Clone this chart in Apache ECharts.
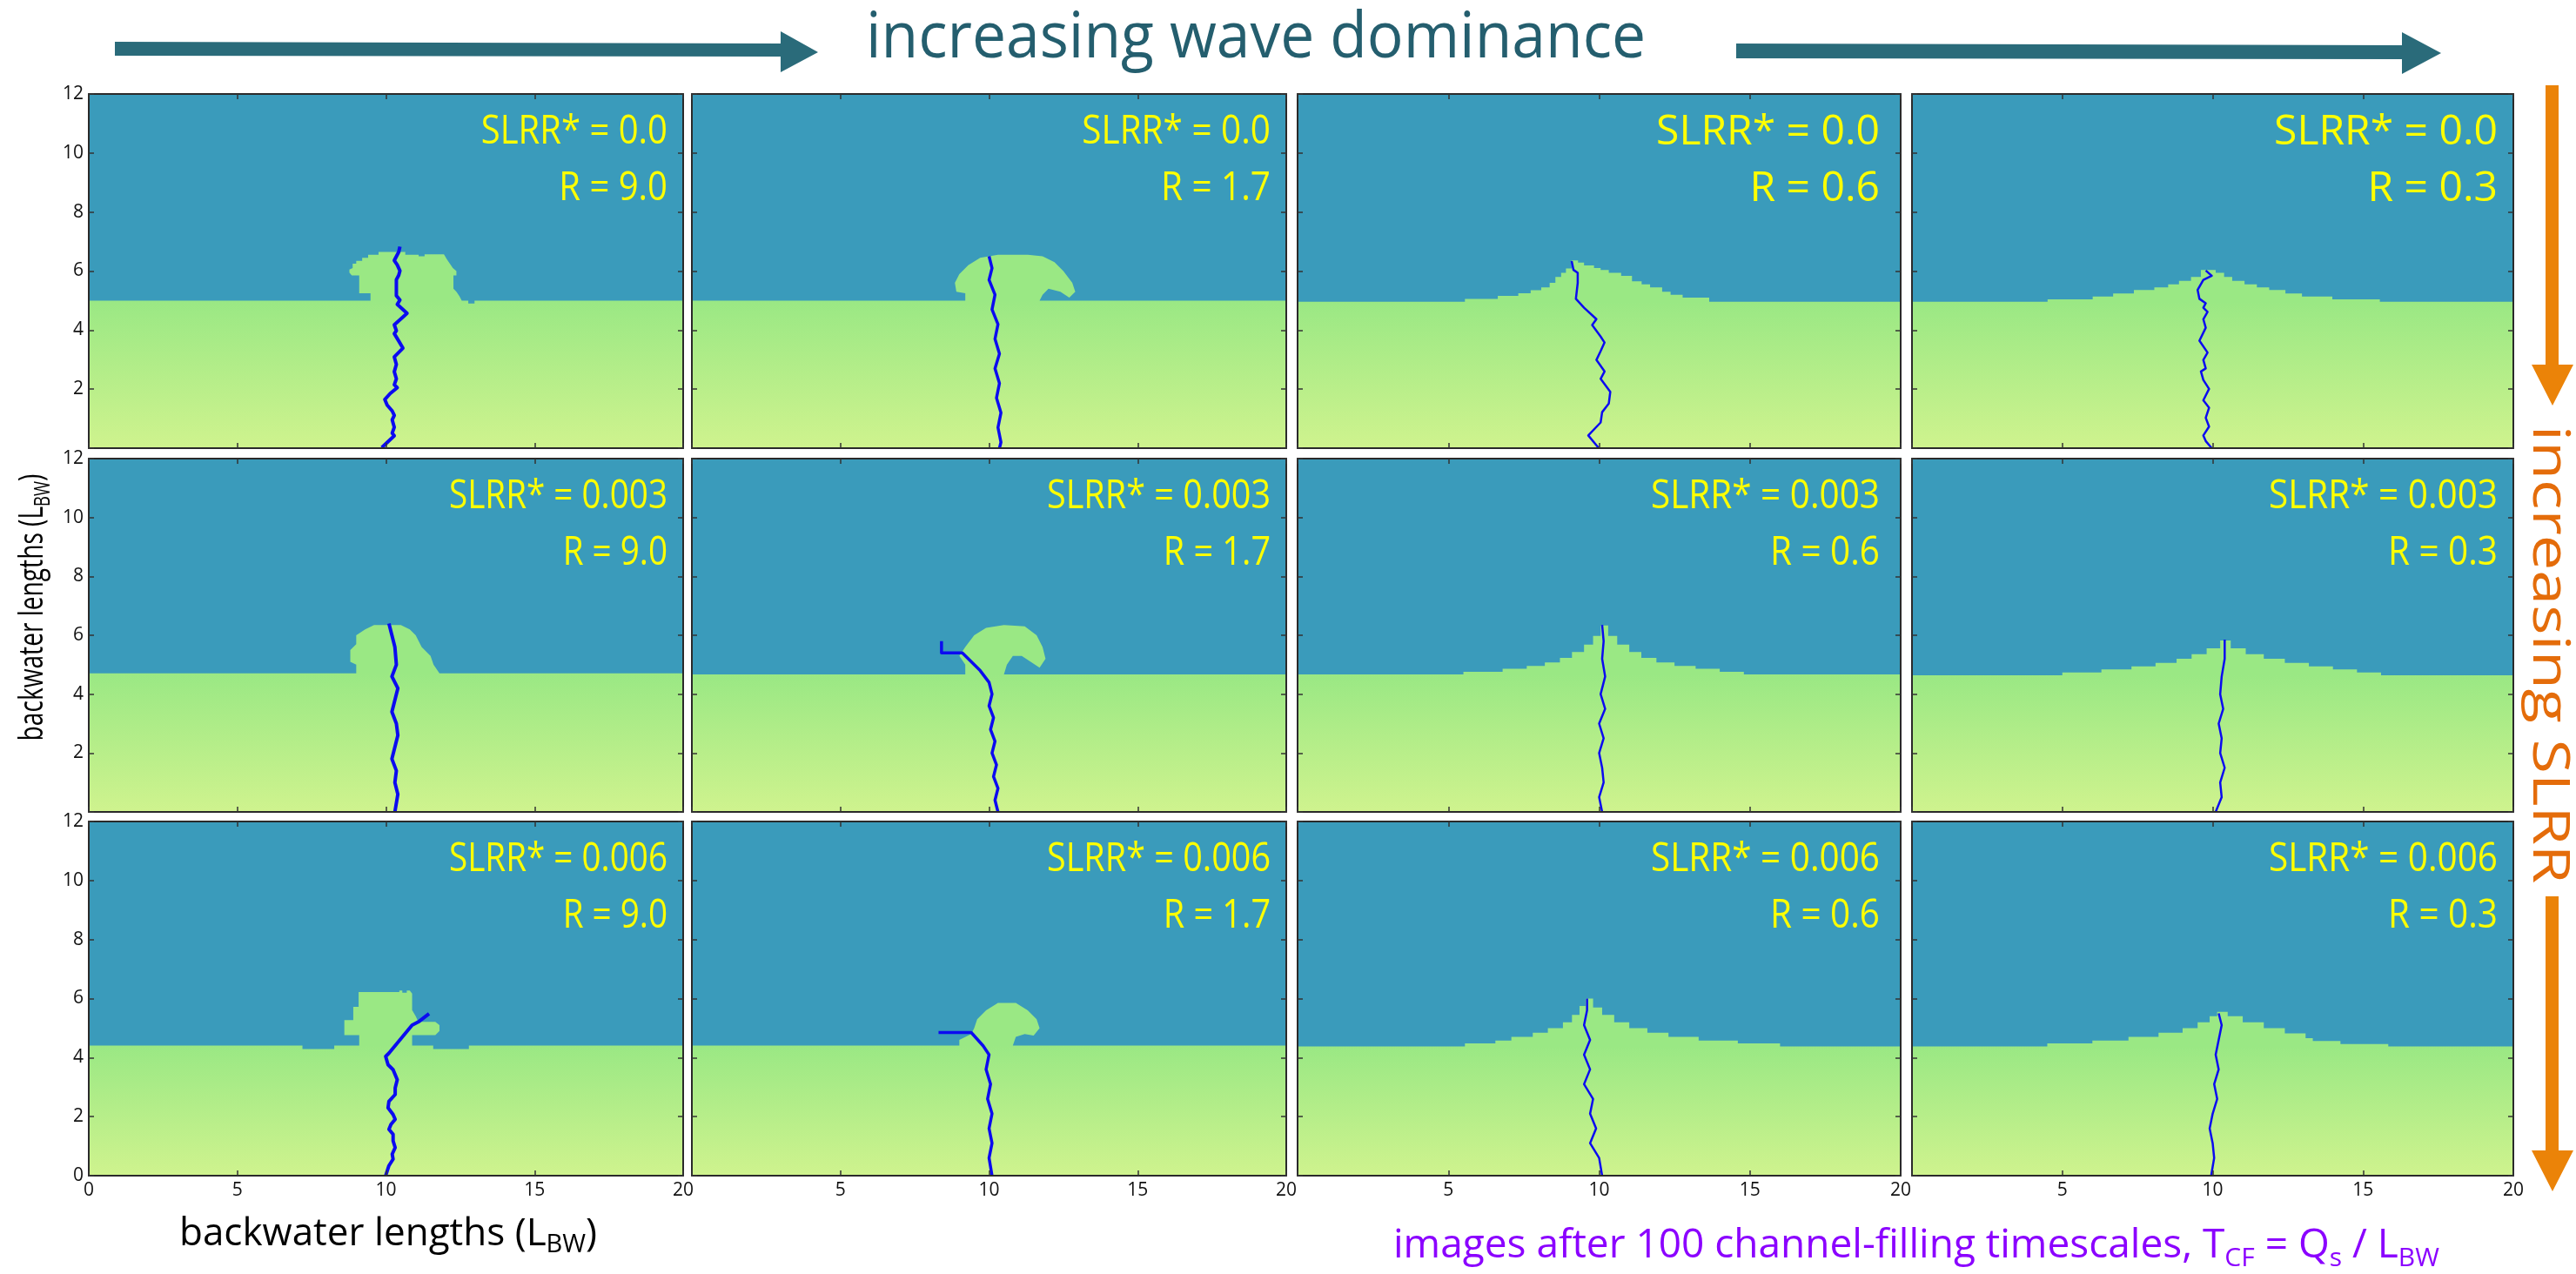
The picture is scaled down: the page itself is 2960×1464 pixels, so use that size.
<!DOCTYPE html>
<html>
<head>
<meta charset="utf-8">
<script src="https://cdn.jsdelivr.net/npm/echarts@6/dist/echarts.min.js"></script>
<style>
  html, body { margin: 0; padding: 0; background: #fff; }
  #main { width: 2960px; height: 1464px; }
</style>
</head>
<body>
<div id="main"></div>
<script>
// 行/列标签
const slrrValues = ['0.0', '0.003', '0.006'];
const rValues = ['9.0', '1.7', '0.6', '0.3'];
const xRange = [0, 20];
const yRange = [0, 12];

// 岸线轮廓 (x, y) — 有悬垂的直接给顶点
const shoreR1C1 = [[0,5.0],[9.48,5.0],[9.48,5.25],[9.1,5.25],[9.1,5.85],[8.85,5.85],[8.77,5.95],[8.77,6.05],[8.88,6.1],[8.88,6.25],[9.0,6.25],[9.0,6.35],[9.2,6.35],[9.2,6.45],[9.4,6.45],[9.4,6.55],[9.75,6.55],[9.75,6.65],[10.65,6.65],[10.65,6.55],[11.1,6.55],[11.1,6.5],[11.3,6.5],[11.3,6.57],[11.95,6.57],[12.05,6.4],[12.15,6.25],[12.25,6.1],[12.37,6.0],[12.37,5.85],[12.27,5.85],[12.27,5.4],[12.37,5.3],[12.47,5.15],[12.55,5.0],[12.77,5.0],[12.77,4.9],[12.98,4.9],[12.98,5.0],[20,5.0]];
const shoreR1C2 = [[0,5.0],[9.2,5.0],[9.2,5.25],[8.9,5.3],[8.85,5.6],[9.0,5.9],[9.3,6.2],[9.7,6.45],[10.3,6.55],[11.3,6.55],[11.8,6.5],[12.2,6.3],[12.5,6.0],[12.8,5.6],[12.9,5.3],[12.7,5.1],[12.4,5.3],[12.0,5.4],[11.8,5.2],[11.7,5.0],[20,5.0]];
const shoreR2C1 = [[0,4.71],[9.0,4.71],[9.0,5.0],[8.8,5.1],[8.8,5.5],[9.0,5.7],[9.0,6.0],[9.3,6.2],[9.6,6.35],[10.5,6.35],[10.8,6.2],[11.0,6.0],[11.2,5.6],[11.5,5.3],[11.6,5.0],[11.8,4.71],[20,4.71]];
const shoreR2C2 = [[0,4.67],[9.2,4.67],[9.2,5.0],[9.0,5.3],[9.2,5.6],[9.5,6.0],[9.9,6.25],[10.5,6.35],[11.2,6.3],[11.6,6.0],[11.8,5.6],[11.9,5.2],[11.7,4.9],[11.4,5.1],[11.1,5.3],[10.8,5.3],[10.6,5.0],[10.5,4.67],[20,4.67]];
const shoreR3C1 = [[0,4.41],[7.19,4.41],[7.19,4.29],[8.26,4.29],[8.26,4.41],[9.1,4.41],[9.1,4.76],[8.6,4.76],[8.6,5.27],[8.9,5.27],[8.9,5.72],[9.08,5.72],[9.08,6.22],[10.45,6.22],[10.45,6.27],[10.55,6.27],[10.55,6.2],[10.7,6.2],[10.7,6.27],[10.8,6.27],[10.88,6.17],[10.88,5.61],[11.0,5.4],[11.09,5.21],[11.66,5.21],[11.8,5.1],[11.8,4.9],[11.66,4.76],[10.88,4.76],[10.88,4.41],[11.59,4.41],[11.59,4.29],[12.79,4.29],[12.79,4.41],[20,4.41]];
const shoreR3C2 = [[0,4.41],[9.0,4.41],[9.0,4.6],[9.4,4.8],[9.5,5.0],[9.6,5.3],[9.9,5.6],[10.3,5.85],[10.9,5.85],[11.3,5.6],[11.6,5.3],[11.7,5.0],[11.5,4.75],[11.2,4.8],[10.9,4.7],[10.8,4.41],[20,4.41]];

// 平滑岸线：[起点x, 高度] 台阶
const stepsR1C3 = [[0,4.96],[5.55,5.06],[6.64,5.16],[7.32,5.25],[7.73,5.35],[8.08,5.45],[8.36,5.6],[8.55,5.8],[8.74,5.94],[8.9,6.09],[9.09,6.36],[9.3,6.29],[9.5,6.19],[9.83,6.1],[10.05,6.04],[10.32,5.94],[10.73,5.84],[11.09,5.65],[11.41,5.55],[11.69,5.45],[12.09,5.3],[12.37,5.2],[12.77,5.1],[13.65,4.96]];
const stepsR1C4 = [[0,4.96],[4.51,5.04],[6.01,5.14],[6.69,5.24],[7.38,5.36],[8.06,5.45],[8.52,5.55],[8.88,5.67],[9.28,5.8],[9.61,6.04],[10.1,5.94],[10.38,5.8],[10.65,5.67],[11.06,5.55],[11.47,5.45],[11.88,5.36],[12.42,5.24],[12.97,5.14],[13.98,5.04],[15.56,4.96]];
const stepsR2C3 = [[0,4.67],[5.5,4.76],[6.8,4.86],[7.6,4.96],[8.2,5.08],[8.7,5.23],[9.1,5.43],[9.5,5.68],[9.8,5.98],[10.05,6.33],[10.3,5.98],[10.6,5.68],[11.0,5.43],[11.4,5.23],[11.9,5.08],[12.5,4.96],[13.2,4.86],[14.0,4.76],[14.8,4.67]];
const stepsR2C4 = [[0,4.64],[5.0,4.74],[6.3,4.84],[7.3,4.94],[8.1,5.06],[8.8,5.2],[9.3,5.36],[9.8,5.56],[10.25,5.82],[10.6,5.56],[11.1,5.36],[11.7,5.2],[12.4,5.06],[13.2,4.94],[14.0,4.84],[14.8,4.74],[15.6,4.64]];
const stepsR3C3 = [[0,4.38],[5.55,4.48],[6.56,4.58],[7.09,4.7],[7.8,4.84],[8.3,5.0],[8.8,5.2],[9.1,5.45],[9.35,5.75],[9.55,6.0],[9.8,5.7],[10.1,5.45],[10.5,5.2],[11.0,5.0],[11.6,4.84],[12.3,4.7],[13.3,4.58],[14.6,4.48],[16.0,4.38]];
const stepsR3C4 = [[0,4.38],[4.5,4.48],[6.0,4.58],[7.2,4.7],[8.2,4.84],[9.0,5.0],[9.5,5.2],[9.9,5.4],[10.15,5.55],[10.5,5.4],[11.0,5.2],[11.7,5.0],[12.4,4.82],[13.09,4.66],[13.33,4.56],[14.25,4.46],[15.84,4.38]];

// 河道
const chanR1C1 = [[10.47,6.83],[10.43,6.65],[10.28,6.36],[10.38,6.21],[10.47,6.01],[10.43,5.86],[10.35,5.71],[10.35,5.17],[10.47,5.02],[10.38,4.87],[10.71,4.57],[10.5,4.38],[10.28,4.18],[10.35,3.98],[10.28,3.88],[10.43,3.63],[10.57,3.39],[10.28,3.09],[10.35,2.84],[10.28,2.59],[10.35,2.35],[10.28,2.15],[10.38,2.05],[10.14,1.85],[9.96,1.65],[10.04,1.46],[10.21,1.26],[10.28,1.11],[10.21,0.96],[10.28,0.71],[10.21,0.51],[10.28,0.42],[10.07,0.22],[9.86,0.02]];
const chanR1C2 = [[10.0,6.5],[10.1,6.1],[10.0,5.7],[10.2,5.2],[10.1,4.7],[10.3,4.2],[10.2,3.7],[10.35,3.2],[10.2,2.7],[10.35,2.2],[10.25,1.7],[10.4,1.2],[10.3,0.7],[10.4,0.2],[10.35,0]];
const chanR1C3 = [[9.09,6.34],[9.15,6.04],[9.29,5.94],[9.29,5.6],[9.23,5.06],[9.5,4.76],[9.91,4.37],[9.77,4.17],[10.05,3.78],[10.18,3.58],[10.05,3.29],[9.91,2.99],[10.18,2.6],[10.05,2.35],[10.37,1.91],[10.32,1.51],[10.1,1.22],[10.05,0.87],[9.64,0.43],[9.99,0]];
const chanR1C4 = [[9.77,6.02],[9.97,5.84],[9.69,5.7],[9.5,5.36],[9.56,5.06],[9.77,4.91],[9.69,4.76],[9.83,4.62],[9.69,4.37],[9.77,4.08],[9.56,3.64],[9.83,3.24],[9.69,2.99],[9.77,2.7],[9.61,2.6],[9.69,2.31],[9.88,2.01],[9.69,1.62],[9.88,1.37],[9.77,1.03],[9.88,0.73],[9.69,0.43],[9.77,0.24],[9.97,0]];
const chanR2C1 = [[10.1,6.4],[10.2,6.0],[10.3,5.6],[10.35,5.0],[10.2,4.6],[10.4,4.2],[10.3,3.8],[10.2,3.4],[10.35,3.0],[10.4,2.6],[10.3,2.2],[10.2,1.8],[10.35,1.4],[10.3,1.0],[10.4,0.6],[10.3,0.0]];
const chanR2C2 = [[8.4,5.8],[8.4,5.4],[9.1,5.4],[9.7,4.8],[10.0,4.4],[10.1,4.0],[10.0,3.6],[10.15,3.2],[10.05,2.8],[10.2,2.4],[10.1,2.0],[10.25,1.6],[10.15,1.2],[10.3,0.8],[10.2,0.4],[10.3,0]];
const chanR2C3 = [[10.1,6.35],[10.15,5.8],[10.1,5.2],[10.2,4.6],[10.05,4.0],[10.2,3.5],[10.0,3.0],[10.15,2.5],[10.0,2.0],[10.1,1.5],[10.15,1.0],[10.0,0.5],[10.1,0]];
const chanR2C4 = [[10.4,5.85],[10.4,5.2],[10.3,4.6],[10.25,4.0],[10.35,3.5],[10.2,3.0],[10.3,2.5],[10.25,2.0],[10.4,1.5],[10.25,1.0],[10.3,0.5],[10.1,0]];
const chanR3C1 = [[11.45,5.49],[11.09,5.21],[10.88,5.1],[10.1,4.15],[9.99,4.04],[10.07,3.76],[10.24,3.59],[10.31,3.42],[10.38,3.25],[10.31,2.97],[10.31,2.75],[10.1,2.52],[10.07,2.3],[10.24,2.07],[10.31,1.91],[10.17,1.74],[10.1,1.57],[10.24,1.4],[10.24,1.18],[10.31,0.95],[10.21,0.73],[10.24,0.56],[10.1,0.34],[9.99,0]];
const chanR3C2 = [[8.3,4.85],[9.4,4.85],[9.8,4.4],[10.0,4.1],[9.9,3.6],[10.05,3.1],[9.95,2.6],[10.1,2.1],[10.0,1.6],[10.1,1.1],[10.0,0.6],[10.1,0]];
const chanR3C3 = [[9.6,6.0],[9.6,5.6],[9.5,5.1],[9.7,4.6],[9.5,4.1],[9.7,3.6],[9.5,3.1],[9.8,2.6],[9.7,2.1],[9.9,1.6],[9.7,1.1],[10.0,0.6],[10.1,0]];
const chanR3C4 = [[10.2,5.5],[10.3,5.1],[10.2,4.6],[10.1,4.1],[10.2,3.6],[10.05,3.1],[10.15,2.6],[10.0,2.1],[9.9,1.6],[10.0,1.1],[10.05,0.6],[9.95,0]];

// 台阶 -> 轮廓
function stepOutline (levels) {
  const pts = [[xRange[0], levels[0][1]]];
  for (let i = 1; i < levels.length; i++) {
    pts.push([levels[i][0], levels[i - 1][1]], [levels[i][0], levels[i][1]]);
  }
  pts.push([xRange[1], levels[levels.length - 1][1]]);
  return pts;
}

const shorelines = [
  [shoreR1C1, shoreR1C2, stepOutline(stepsR1C3), stepOutline(stepsR1C4)],
  [shoreR2C1, shoreR2C2, stepOutline(stepsR2C3), stepOutline(stepsR2C4)],
  [shoreR3C1, shoreR3C2, stepOutline(stepsR3C3), stepOutline(stepsR3C4)]
];
const channels = [
  [chanR1C1, chanR1C2, chanR1C3, chanR1C4],
  [chanR2C1, chanR2C2, chanR2C3, chanR2C4],
  [chanR3C1, chanR3C2, chanR3C3, chanR3C4]
];

// 面板位置 (px)
const colLeft = [102, 795, 1491, 2197];
const colRight = [785, 1478, 2184, 2888];
const rowTop = [108, 527, 944];
const rowBottom = [515, 933, 1351];
const chanWidth = [4, 3.5, 2.5, 2.5];
// 标注文字横向压缩（原图拉伸过）
const labelScale = [
  [0.87, 0.88, 1.0, 1.0],
  [0.84, 0.86, 0.88, 0.88],
  [0.84, 0.86, 0.88, 0.88]
];

const WATER = '#3A9BBB';
const LAND_TOP = '#9AE884';
const LAND_BOTTOM = '#CFF38E';
const CHANNEL = '#0B0BF0';
const FONT = '"Open Sans", "Noto Sans", sans-serif';

const chart = echarts.init(document.getElementById('main'), null, { renderer: 'canvas' });

const grids = [], xAxes = [], yAxes = [], series = [], graphics = [];

function baseAxis (gi, pos, extra) {
  return Object.assign({
    type: 'value',
    gridIndex: gi,
    position: pos,
    z: 5,
    axisLine: { show: true, onZero: false, lineStyle: { color: '#2a2a2a', width: 2 } },
    axisTick: { show: true, inside: true, length: 6, lineStyle: { color: '#333', width: 1.5 } },
    splitLine: { show: false },
    axisLabel: { show: false }
  }, extra);
}

for (let r = 0; r < 3; r++) {
  for (let c = 0; c < 4; c++) {
    const gi = r * 4 + c;
    grids.push({
      left: colLeft[c], top: rowTop[r],
      width: colRight[c] - colLeft[c], height: rowBottom[r] - rowTop[r],
      show: true, backgroundColor: WATER, borderWidth: 0
    });
    const xOpt = { min: xRange[0], max: xRange[1], interval: 5 };
    const yOpt = { min: yRange[0], max: yRange[1], interval: 2 };
    xAxes.push(baseAxis(gi, 'bottom', Object.assign({}, xOpt, {
      axisLabel: {
        show: r === 2, margin: 7, fontSize: 21, fontFamily: FONT, color: '#111',
        showMinLabel: true, showMaxLabel: true,
        formatter: v => (c > 0 && v === 0) ? '' : String(v)
      }
    })));
    xAxes.push(baseAxis(gi, 'top', xOpt));
    yAxes.push(baseAxis(gi, 'left', Object.assign({}, yOpt, {
      axisLabel: {
        show: c === 0, margin: 6, fontSize: 21, fontFamily: FONT, color: '#111',
        showMinLabel: true, showMaxLabel: true,
        formatter: v => (r < 2 && v === 0) ? '' : String(v)
      }
    })));
    yAxes.push(baseAxis(gi, 'right', yOpt));

    const outline = shorelines[r][c];
    const base = outline[0][1];
    const top = Math.max.apply(null, outline.map(p => p[1]));
    const poly = [[xRange[0], yRange[0]]].concat(outline, [[xRange[1], yRange[0]]]);
    const fill = new echarts.graphic.LinearGradient(0, 0, 0, 1, [
      { offset: 0, color: LAND_TOP },
      { offset: (top - base) / top, color: LAND_TOP },
      { offset: 1, color: LAND_BOTTOM }
    ]);
    series.push({
      type: 'custom',
      xAxisIndex: gi * 2,
      yAxisIndex: gi * 2,
      silent: true,
      z: 1,
      data: [0],
      renderItem: (params, api) => ({
        type: 'polygon',
        shape: { points: poly.map(p => api.coord(p)) },
        style: { fill: fill }
      })
    });
    series.push({
      type: 'line',
      xAxisIndex: gi * 2,
      yAxisIndex: gi * 2,
      data: channels[r][c],
      showSymbol: false,
      silent: true,
      z: 3,
      lineStyle: { color: CHANNEL, width: chanWidth[c], join: 'round' }
    });

    // 黄色标注
    const tx = colRight[c] - (c === 2 ? 24 : 18);
    const big = r === 0 && c >= 2;
    const fs = big ? 48 : 46;
    graphics.push({
      type: 'text', x: tx, y: rowTop[r] + 62 - 18, z: 10, scaleX: labelScale[r][c],
      style: { text: 'SLRR* = ' + slrrValues[r], fill: '#FFFF00', fontSize: fs, fontFamily: FONT,
        align: 'right', verticalAlign: 'middle', textAlign: 'right', textVerticalAlign: 'middle' }
    });
    graphics.push({
      type: 'text', x: tx, y: rowTop[r] + 127 - 18, z: 10, scaleX: labelScale[r][c],
      style: { text: 'R = ' + rValues[c], fill: '#FFFF00', fontSize: fs, fontFamily: FONT,
        align: 'right', verticalAlign: 'middle', textAlign: 'right', textVerticalAlign: 'middle' }
    });
  }
}

// 顶部箭头与标题
const TEAL = '#2A6B7A';
graphics.push(
  { type: 'polygon', shape: { points: [[132,48],[897,50],[897,36],[940,60],[897,83],[897,65],[132,64]] }, style: { fill: TEAL } },
  { type: 'polygon', shape: { points: [[1995,50],[2760,52],[2760,37],[2805,61],[2760,85],[2760,68],[1995,67]] }, style: { fill: TEAL } },
  { type: 'text', x: 995, y: 82, scaleX: 0.94,
    style: { text: 'increasing wave dominance', fill: '#245E6E', fontSize: 74, fontFamily: FONT,
      align: 'left', verticalAlign: 'bottom', textAlign: 'left', textVerticalAlign: 'bottom' } }
);

// 右侧橙色箭头
const ORANGE = '#EB8308';
graphics.push(
  { type: 'polygon', shape: { points: [[2925,98],[2940,98],[2940,419],[2957,419],[2933,466],[2909,419],[2925,419]] }, style: { fill: ORANGE } },
  { type: 'polygon', shape: { points: [[2925,1030],[2940,1030],[2940,1322],[2957,1322],[2933,1369],[2909,1322],[2925,1322]] }, style: { fill: ORANGE } },
  { type: 'text', x: 2928, y: 752, rotation: -Math.PI / 2, scaleX: 1.24,
    style: { text: 'increasing SLRR', fill: '#E46C0A', fontSize: 58, fontFamily: FONT,
      align: 'center', verticalAlign: 'middle', textAlign: 'center', textVerticalAlign: 'middle' } }
);

// 坐标轴标题
function subTitle (main, sub, size, color) {
  return {
    text: '{m|' + main + '}{s|' + sub + '}{m|)}',
    rich: {
      m: { fontSize: size, fontFamily: FONT, fill: color, color: color },
      s: { fontSize: Math.round(size * 0.65), fontFamily: FONT, fill: color, color: color, padding: [Math.round(size * 0.6), 0, 0, 0] }
    }
  };
}
graphics.push(
  { type: 'text', x: 206, y: 1418,
    style: Object.assign(subTitle('backwater lengths (L', 'BW', 44, '#000'),
      { align: 'left', verticalAlign: 'middle', textAlign: 'left', textVerticalAlign: 'middle' }) },
  { type: 'text', x: 38, y: 698, rotation: Math.PI / 2, scaleX: 0.74,
    style: Object.assign(subTitle('backwater lengths (L', 'BW', 38, '#000'),
      { align: 'center', verticalAlign: 'middle', textAlign: 'center', textVerticalAlign: 'middle' }) }
);

// 底部说明
const PURPLE = '#8B00FF';
graphics.push({
  type: 'text', x: 1601, y: 1432,
  style: {
    text: '{m|images after 100 channel-filling timescales, T}{s|CF}{m| = Q}{s|s}{m| / L}{s|BW}',
    rich: {
      m: { fontSize: 46, fontFamily: FONT, fill: PURPLE, color: PURPLE },
      s: { fontSize: 30, fontFamily: FONT, fill: PURPLE, color: PURPLE, padding: [28, 0, 0, 0] }
    },
    align: 'left', verticalAlign: 'middle', textAlign: 'left', textVerticalAlign: 'middle'
  }
});

chart.setOption({
  animation: false,
  backgroundColor: '#ffffff',
  grid: grids,
  xAxis: xAxes,
  yAxis: yAxes,
  series: series,
  graphic: { elements: graphics }
});
</script>
</body>
</html>
